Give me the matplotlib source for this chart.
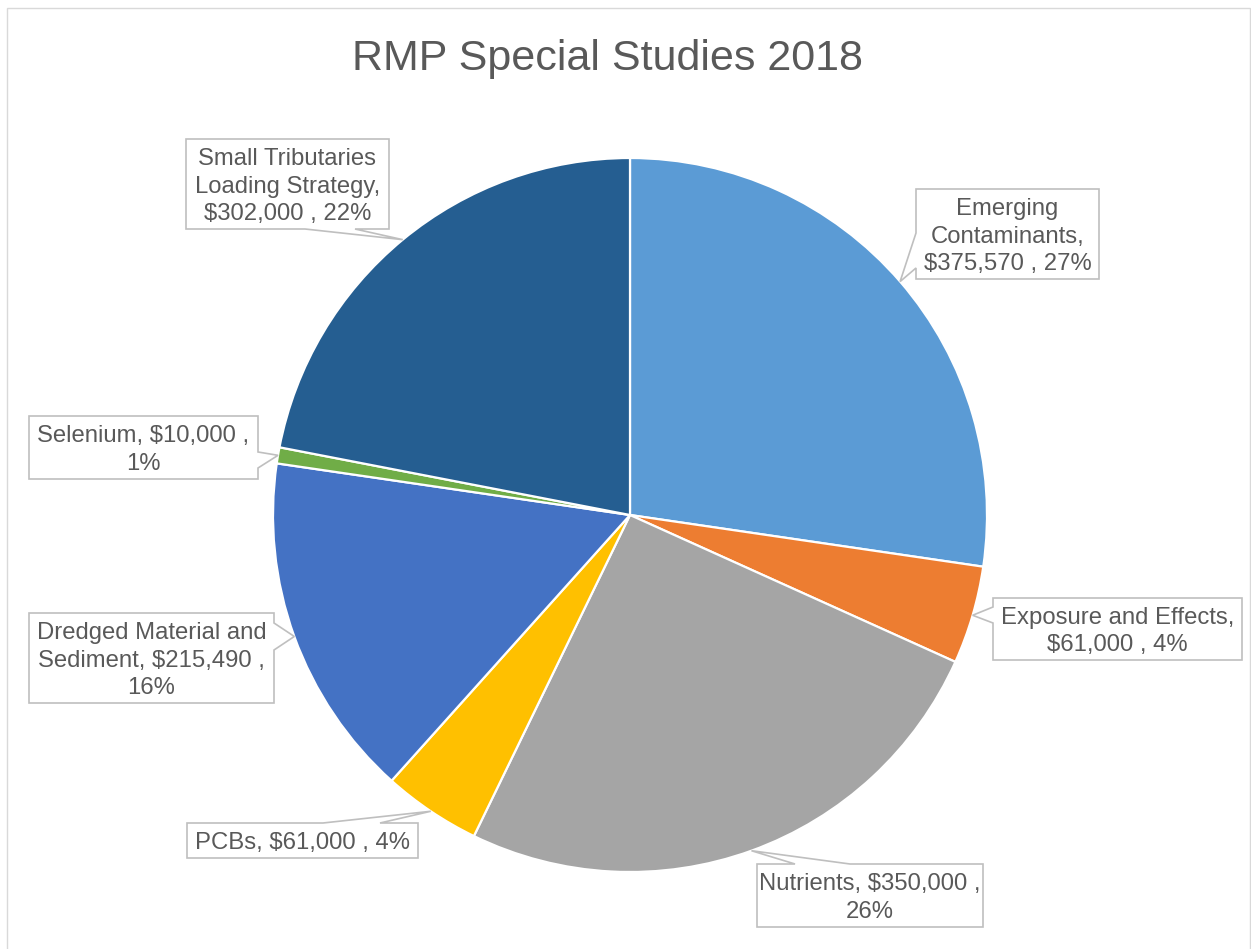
import matplotlib
matplotlib.use('Agg')
import matplotlib.pyplot as plt
import numpy as np
from matplotlib.patches import Polygon, Rectangle

# ---------------- data ----------------
categories = ['Emerging Contaminants', 'Exposure and Effects', 'Nutrients', 'PCBs',
              'Dredged Material and Sediment', 'Selenium',
              'Small Tributaries Loading Strategy']
values = [375570, 61000, 350000, 61000, 215490, 10000, 302000]
pct_labels = ['27%', '4%', '26%', '4%', '16%', '1%', '22%']
label_texts = [
    'Emerging\nContaminants,\n$375,570 , 27%',
    'Exposure and Effects,\n$61,000 , 4%',
    'Nutrients, $350,000 ,\n26%',
    'PCBs, $61,000 , 4%',
    'Dredged Material and\nSediment, $215,490 ,\n16%',
    'Selenium, $10,000 ,\n1%',
    'Small Tributaries\nLoading Strategy,\n$302,000 , 22%',
]
colors = ['#5B9BD5', '#ED7D31', '#A5A5A5', '#FFC000', '#4472C4', '#70AD47', '#255E91']
title = 'RMP Special Studies 2018'

# ---------------- layout (pixel space, origin top-left) ----------------
W, H = 1251, 949
CX, CY, R = 630, 515, 357
# box: (x0, y0, x1, y1), pointer side, pointer base positions along side
boxes = [
    ((916, 189, 1099, 279), 'left', 233, 268),
    ((993, 598, 1242, 660), 'left', 607, 623),
    ((757, 864, 983, 927), 'top', 795, 850),
    ((187, 823, 418, 858), 'top', 323, 380),
    ((29, 613, 274, 703), 'right', 623, 650),
    ((29, 416, 258, 479), 'right', 452, 468),
    ((186, 139, 389, 229), 'bottom', 305, 355),
]

TXT = '#595959'
FONT = ['Liberation Sans', 'DejaVu Sans']

fig = plt.figure(figsize=(W / 100, H / 100), dpi=100)
ax = fig.add_axes([0, 0, 1, 1])


def Y(y):
    return H - y


wedges, _ = ax.pie(values, colors=colors, startangle=90, counterclock=False,
                   center=(CX, Y(CY)), radius=R,
                   wedgeprops=dict(edgecolor='white', linewidth=1.6))
ax.set_xlim(0, W)
ax.set_ylim(0, H)
ax.set_aspect('auto')
ax.axis('off')

# chart frame
ax.add_patch(Rectangle((7, -10), W - 8, Y(8) + 10, fill=False,
                       edgecolor='#D9D9D9', linewidth=1.0, zorder=0))

# title
ax.text(607, Y(59), title, ha='center', va='center', fontsize=31,
        color=TXT, family=FONT)

# callouts
for w, txt, (box, side, b1, b2) in zip(wedges, label_texts, boxes):
    mid = np.deg2rad((w.theta1 + w.theta2) / 2)
    tx = CX + R * np.cos(mid)
    ty = Y(CY) + R * np.sin(mid)
    x0, y0, x1, y1 = box
    tip = (tx, ty)
    pts = [(x0, Y(y0))]
    if side == 'top':
        pts += [(b1, Y(y0)), tip, (b2, Y(y0))]
    pts += [(x1, Y(y0))]
    if side == 'right':
        pts += [(x1, Y(b1)), tip, (x1, Y(b2))]
    pts += [(x1, Y(y1))]
    if side == 'bottom':
        pts += [(b2, Y(y1)), tip, (b1, Y(y1))]
    pts += [(x0, Y(y1))]
    if side == 'left':
        pts += [(x0, Y(b2)), tip, (x0, Y(b1))]
    ax.add_patch(Polygon(pts, closed=True, facecolor='white',
                         edgecolor='#BFBFBF', linewidth=1.2, zorder=5))
    ax.text((x0 + x1) / 2, Y((y0 + y1) / 2 + 2.5), txt, ha='center', va='center',
            fontsize=17.2, color=TXT, family=FONT, linespacing=1.33, zorder=6)

fig.savefig('out.png', dpi=100)
